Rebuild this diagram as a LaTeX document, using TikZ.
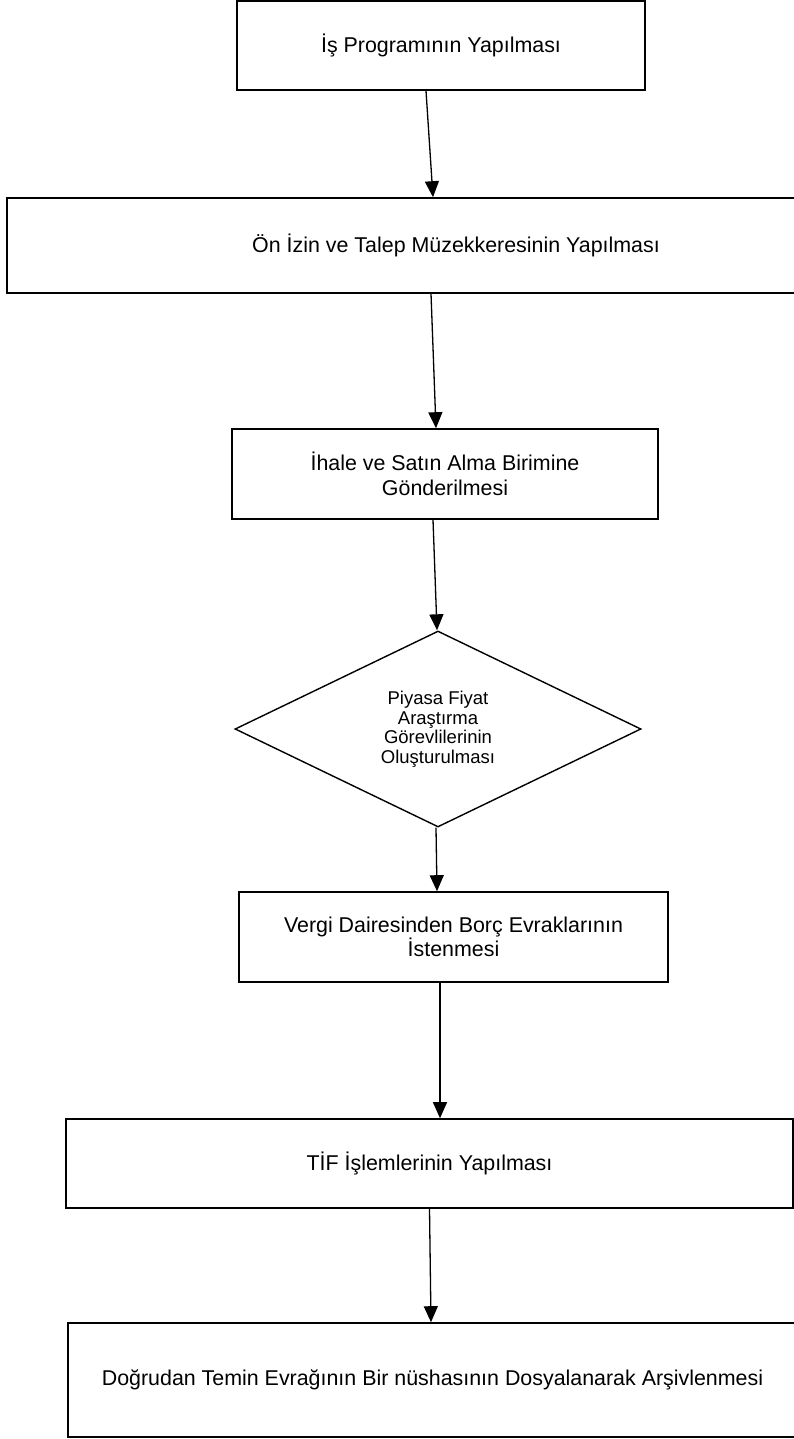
\documentclass[tikz,border=0pt]{standalone}
\usepackage{fontspec}
\setmainfont{Liberation Sans}
\usetikzlibrary{arrows.meta,shapes.geometric}
\tikzset{
  box/.style={draw, line width=1.6pt, rectangle, inner sep=0pt, align=center,
    font=\fontsize{21.4}{25}\selectfont},
  dia/.style={draw, line width=1.4pt, diamond, inner sep=0pt, align=center,
    font=\fontsize{18.5}{19.5}\selectfont},
  arr/.style={-{Triangle[width=14pt,length=16pt]}, line width=1.3pt},
}
\begin{document}
\begin{tikzpicture}[x=1pt,y=-1pt]
\useasboundingbox (0,0) rectangle (794,1439);
\fill[white] (0,0) rectangle (794,1439);
\clip (0,0) rectangle (794,1439);

\node[box, minimum width=408pt, minimum height=89pt] (b1) at (441,45.5) {İş Programının Yapılması};
\node[box, minimum width=898pt, minimum height=95pt] (b2) at (456,245.5) {Ön İzin ve Talep Müzekkeresinin Yapılması};
\node[box, minimum width=426pt, minimum height=90pt] (b3) at (445,474) {İhale ve Satın Alma Birimine\\Gönderilmesi};
\node[dia, minimum width=406pt, minimum height=196pt] (d1) at (438,729) {Piyasa Fiyat\\Araştırma\\Görevlilerinin\\Oluşturulması};
\node[box, minimum width=429pt, minimum height=90pt, font=\fontsize{21.4}{20}\selectfont] (b4) at (453.5,937) {Vergi Dairesinden Borç Evraklarının\\İstenmesi};
\node[box, minimum width=727pt, minimum height=89pt] (b5) at (429.5,1163.5) {TİF İşlemlerinin Yapılması};
\node[box, minimum width=729pt, minimum height=114pt] (b6) at (432.5,1380) {Doğrudan Temin Evrağının Bir nüshasının Dosyalanarak Arşivlenmesi};

\draw[arr] ([xshift=-15pt]b1.south) -- ([xshift=-23pt]b2.north);
\draw[arr] ([xshift=-25pt]b2.south) -- ([xshift=-9pt]b3.north);
\draw[arr] ([xshift=-12pt]b3.south) -- ([xshift=-1pt]d1.north);
\draw[arr] ([xshift=-2pt]d1.south) -- ([xshift=-16.5pt]b4.north);
\draw[arr] ([xshift=-13.5pt]b4.south) -- ([xshift=10.5pt]b5.north);
\draw[arr] (b5.south) -- ([xshift=-1.5pt]b6.north);
\end{tikzpicture}
\end{document}
